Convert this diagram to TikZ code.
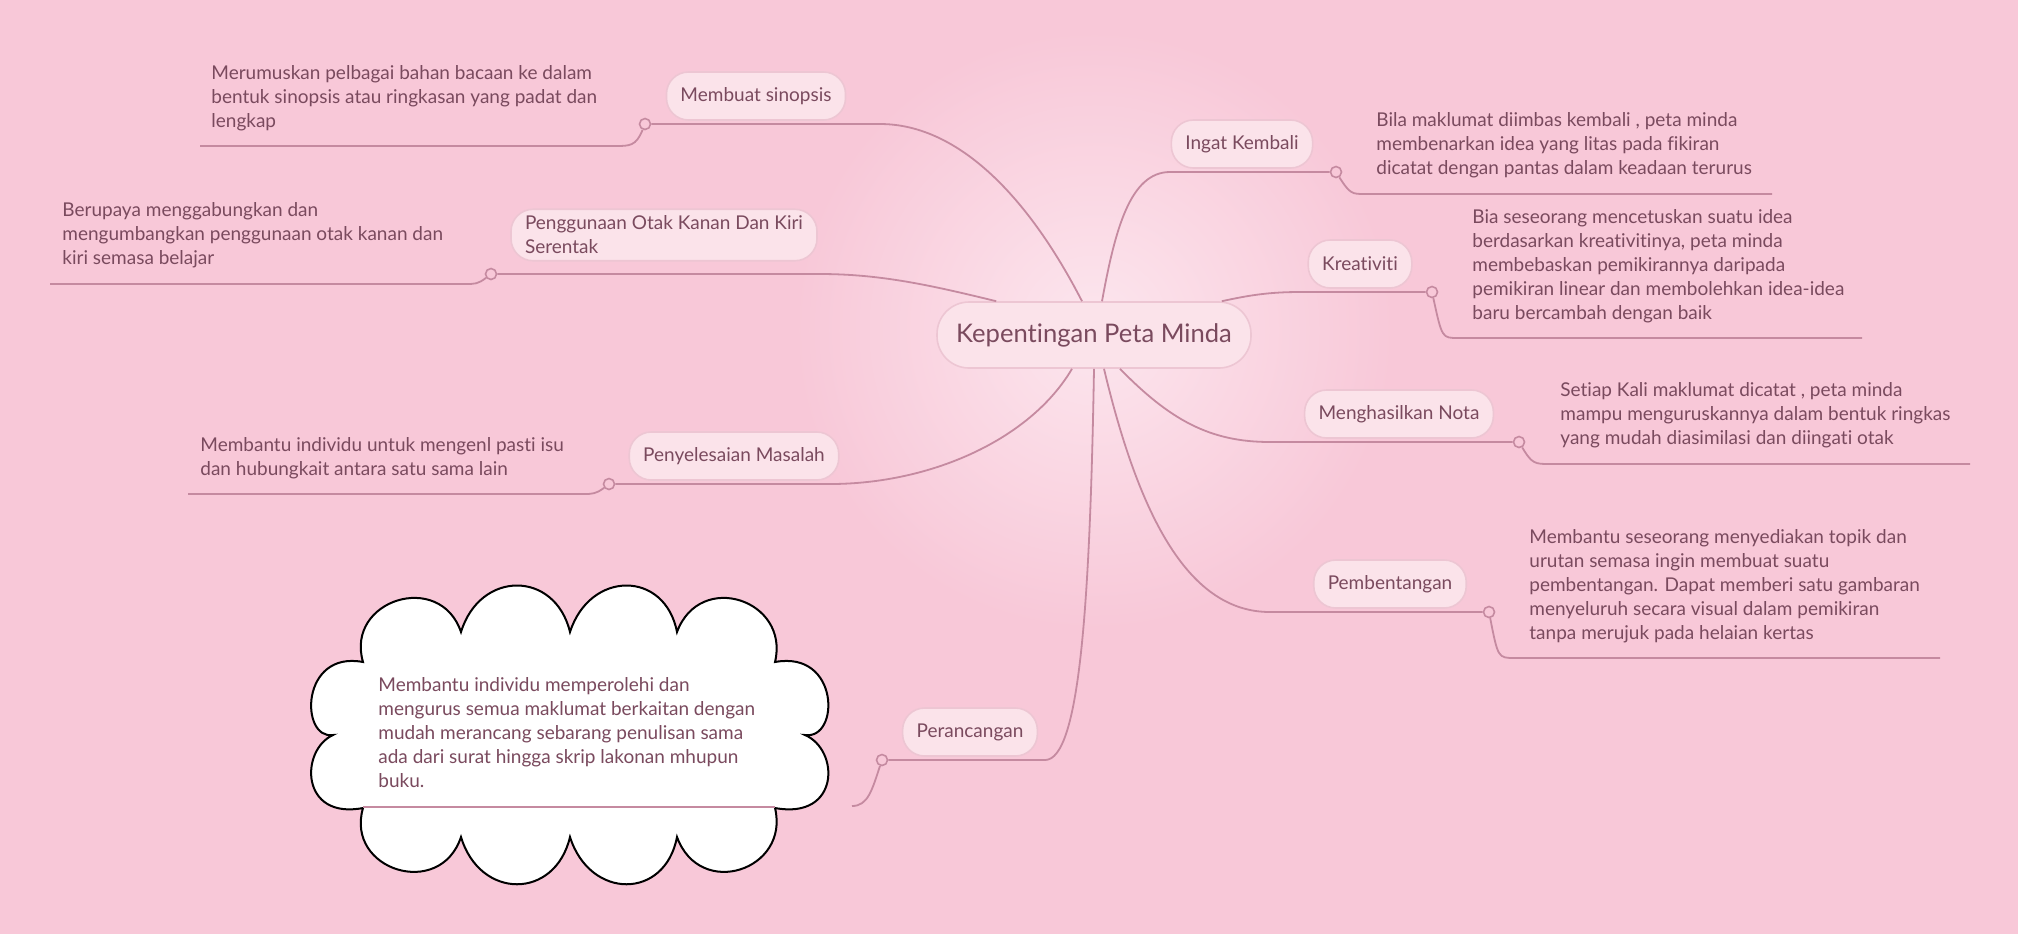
\documentclass[tikz,border=0pt]{standalone}
\usepackage{fontspec}
\setmainfont{Lato}[Ligatures=NoCommon]
\begin{document}
\definecolor{bg}{HTML}{F8C8D8}
\definecolor{glow}{HTML}{FCE6EE}
\definecolor{txt}{HTML}{7A4A5E}
\definecolor{ln}{HTML}{C58AA0}
\definecolor{boxf}{HTML}{FBE3EA}
\definecolor{boxd}{HTML}{EDC6D3}
\begin{tikzpicture}[x=0.5pt,y=-0.5pt,
  topic/.style={draw=boxd,fill=boxf,line width=0.8pt,rounded corners=11pt,minimum height=24pt,inner xsep=7pt,text=txt,font=\fontsize{9.5}{12}\selectfont,align=left},
  desc/.style={anchor=north west,inner sep=0pt,text=txt,font=\fontsize{9.5}{12}\selectfont,align=left},
  con/.style={draw=ln,line width=0.9pt},
  knob/.style={circle,draw=ln,fill=bg,line width=0.8pt,inner sep=0pt,minimum size=5.5pt}]
\fill[bg] (0,0) rectangle (2018,934);
\shade[inner color=glow,outer color=bg] (1094,330) circle (300);
\useasboundingbox (0,0) rectangle (2018,934);

% cloud
\draw[black,fill=white,line width=1pt]
 (363,662) .. controls (345,600) and (440,570) .. (461,632)
 .. controls (480,570) and (555,570) .. (570,632)
 .. controls (590,570) and (665,570) .. (677,632)
 .. controls (700,570) and (790,600) .. (775,662)
 .. controls (840,650) and (840,740) .. (805,735)
 .. controls (840,750) and (840,820) .. (775,808)
 .. controls (790,870) and (700,900) .. (677,837)
 .. controls (665,900) and (590,900) .. (570,837)
 .. controls (555,900) and (480,900) .. (461,837)
 .. controls (440,900) and (345,870) .. (363,808)
 .. controls (300,820) and (300,750) .. (333,735)
 .. controls (300,740) and (300,650) .. (363,662) -- cycle;

\node[anchor=center,draw=boxd,fill=boxf,line width=0.8pt,rounded corners=16pt,minimum height=33pt,minimum width=157pt,text=txt,font=\fontsize{12.8}{15}\selectfont] (c) at (1094,335) {Kepentingan Peta Minda};

% knobs
\node[knob] (k1) at (645,124) {};
\node[knob] (k2) at (491,274) {};
\node[knob] (k3) at (609,484) {};
\node[knob] (k4) at (882,760) {};
\node[knob] (k5) at (1336,172) {};
\node[knob] (k6) at (1432,292) {};
\node[knob] (k7) at (1519,442) {};
\node[knob] (k8) at (1489,612) {};
\coordinate (e1) at (200,146);
\coordinate (e2) at (50,284);
\coordinate (e3) at (188,494);
\coordinate (e4) at (852,806);
\coordinate (e5) at (1772,194);
\coordinate (e6) at (1862,338);
\coordinate (e7) at (1970,464);
\coordinate (e8) at (1940,658);

% main branches
\draw[con] (c.north)++(-12,0) .. controls (1030,200) and (960,124) .. (880,124) -- (k1);
\draw[con] (c.north west)++(60,0) .. controls (930,285) and (880,274) .. (820,274) -- (k2);
\draw[con] (c.south)++(-22,0) .. controls (1030,440) and (930,484) .. (830,484) -- (k3);
\draw[con] (c.south) .. controls (1090,600) and (1080,760) .. (1045,760) -- (k4);
\draw[con] (c.north)++(8,0) .. controls (1115,230) and (1130,172) .. (1170,172) -- (k5);
\draw[con] (c.north east)++(-30,0) .. controls (1250,295) and (1270,292) .. (1300,292) -- (k6);
\draw[con] (c.south)++(26,0) .. controls (1170,420) and (1210,442) .. (1270,442) -- (k7);
\draw[con] (c.south)++(10,0) .. controls (1140,520) and (1190,612) .. (1270,612) -- (k8);

% detail lines
\draw[con] (k1) .. controls (636,146) and (630,146) .. (615,146) -- (e1);
\draw[con] (k2) .. controls (478,284) and (475,284) .. (465,284) -- (e2);
\draw[con] (k3) .. controls (596,494) and (592,494) .. (583,494) -- (e3);
\draw[con] (k4) .. controls (872,790) and (868,806) .. (e4);
\draw[con] (k5) .. controls (1350,194) and (1352,194) .. (1365,194) -- (e5);
\draw[con] (k6) .. controls (1442,338) and (1442,338) .. (1458,338) -- (e6);
\draw[con] (k7) .. controls (1532,464) and (1535,464) .. (1550,464) -- (e7);
\draw[con] (k8) .. controls (1498,658) and (1498,658) .. (1515,658) -- (e8);
\draw[con] (363,807) -- (775,807);

% topics
\node[topic] (t1) at (756,96) {Membuat sinopsis};
\node[topic] (t2) at (664,235) {Penggunaan Otak Kanan Dan Kiri\\Serentak};
\node[topic] (t3) at (734,456) {Penyelesaian Masalah};
\node[topic] (t4) at (970,732) {Perancangan};
\node[topic] (t5) at (1242,144) {Ingat Kembali};
\node[topic] (t6) at (1360,264) {Kreativiti};
\node[topic] (t7) at (1399,414) {Menghasilkan Nota};
\node[topic] (t8) at (1390,584) {Pembentangan};

% descriptions
\node[desc] (d1) at (211,65) {Merumuskan pelbagai bahan bacaan ke dalam\\bentuk sinopsis atau ringkasan yang padat dan\\lengkap};
\node[desc] (d2) at (62,202) {Berupaya menggabungkan dan\\mengumbangkan penggunaan otak kanan dan\\kiri semasa belajar};
\node[desc] (d3) at (200,437) {Membantu individu untuk mengenl pasti isu\\dan hubungkait antara satu sama lain};
\node[desc] (d4) at (378,677) {Membantu individu memperolehi dan\\mengurus semua maklumat berkaitan dengan\\mudah merancang sebarang penulisan sama\\ada dari surat hingga skrip lakonan mhupun\\buku.};
\node[desc] (d5) at (1376,112) {Bila maklumat diimbas kembali , peta minda\\membenarkan idea yang litas pada fikiran\\dicatat dengan pantas dalam keadaan terurus};
\node[desc] (d6) at (1472,209) {Bia seseorang mencetuskan suatu idea\\berdasarkan kreativitinya, peta minda\\membebaskan pemikirannya daripada\\pemikiran linear dan membolehkan idea-idea\\baru bercambah dengan baik};
\node[desc] (d7) at (1560,382) {Setiap Kali maklumat dicatat , peta minda\\mampu menguruskannya dalam bentuk ringkas\\yang mudah diasimilasi dan diingati otak};
\node[desc] (d8) at (1529,529) {Membantu seseorang menyediakan topik dan\\urutan semasa ingin membuat suatu\\pembentangan. Dapat memberi satu gambaran\\menyeluruh secara visual dalam pemikiran\\tanpa merujuk pada helaian kertas};
\end{tikzpicture}
\end{document}
